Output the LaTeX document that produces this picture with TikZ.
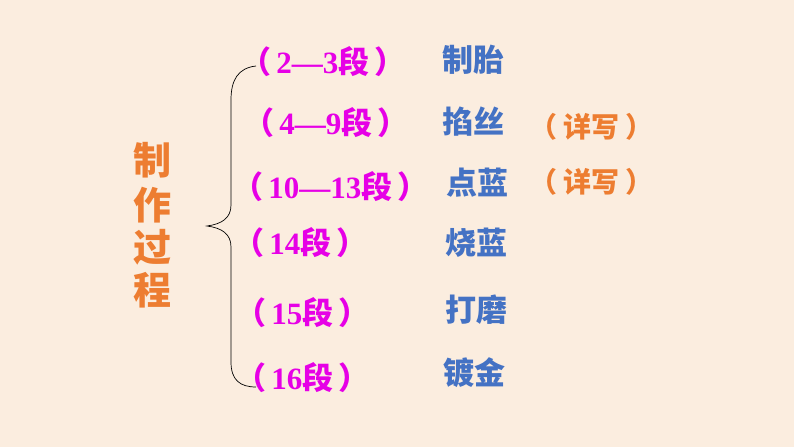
\documentclass[tikz,border=0pt]{standalone}
\usepackage{fontspec}
\setmainfont{Liberation Serif}
\newfontfamily\cjk{Noto Sans CJK SC}
\definecolor{bg}{RGB}{251,237,223}
\definecolor{mag}{RGB}{230,0,230}
\definecolor{blu}{RGB}{68,114,196}
\definecolor{org}{RGB}{237,125,49}
\newcommand{\C}[1]{{\cjk\bfseries #1}}
\begin{document}
\begin{tikzpicture}[x=1pt,y=1pt,
  seg/.style={text=mag,font=\bfseries\fontsize{31}{34}\selectfont,inner sep=0pt,anchor=west},
  stepname/.style={text=blu,font=\cjk\bfseries\fontsize{31}{34}\selectfont,inner sep=0pt,anchor=west},
  note/.style={text=org,font=\cjk\bfseries\fontsize{28}{32}\selectfont,inner sep=0pt,anchor=west},
  vert/.style={text=org,font=\cjk\bfseries\fontsize{38}{42}\selectfont,inner sep=0pt}]
\fill[bg] (0,0) rectangle (794,447);
\useasboundingbox (0,0) rectangle (794,447);
% vertical title
\node[vert] (t1) at (152,447-160) {制};
\node[vert] (t2) at (152,447-205) {作};
\node[vert] (t3) at (152,447-247) {过};
\node[vert] (t4) at (152,447-290) {程};
% brace
\coordinate (btop) at (256,447-66);
\coordinate (bbot) at (256,447-387);
\coordinate (btip) at (207,447-226);
\draw[black,line width=0.7pt] (btop) .. controls (238,447-68) and (231,447-80) .. (231,447-100)
  -- (231,447-205) .. controls (231,447-218) and (222,447-224) .. (btip)
  .. controls (222,447-228) and (231,447-234) .. (231,447-247)
  -- (231,447-362) .. controls (231,447-380) and (240,447-387) .. (bbot);
% segment labels
\node[seg] (s1) at (240,447-62) {\C{（}\,2—3\C{段}\,\C{）}};
\node[seg] (s2) at (243,447-123) {\C{（}\,4—9\C{段}\,\C{）}};
\node[seg] (s3) at (232,447-187) {\C{（}\,10—13\C{段}\,\C{）}};
\node[seg] (s4) at (233,447-243) {\C{（}\,14\C{段}\,\C{）}};
\node[seg] (s5) at (235,447-313) {\C{（}\,15\C{段}\,\C{）}};
\node[seg] (s6) at (235,447-378) {\C{（}\,16\C{段}\,\C{）}};
% step names
\node[stepname] (n1) at (442,447-60) {制胎};
\node[stepname] (n2) at (442,447-122) {掐丝};
\node[stepname] (n3) at (446,447-183) {点蓝};
\node[stepname] (n4) at (445,447-243) {烧蓝};
\node[stepname] (n5) at (445,447-310) {打磨};
\node[stepname] (n6) at (443,447-373) {镀金};
% notes
\node[note] (d1) at (529,447-127) {（\hspace{6pt}详写\hspace{6pt}）};
\node[note] (d2) at (529,447-182) {（\hspace{6pt}详写\hspace{6pt}）};
\end{tikzpicture}
\end{document}
